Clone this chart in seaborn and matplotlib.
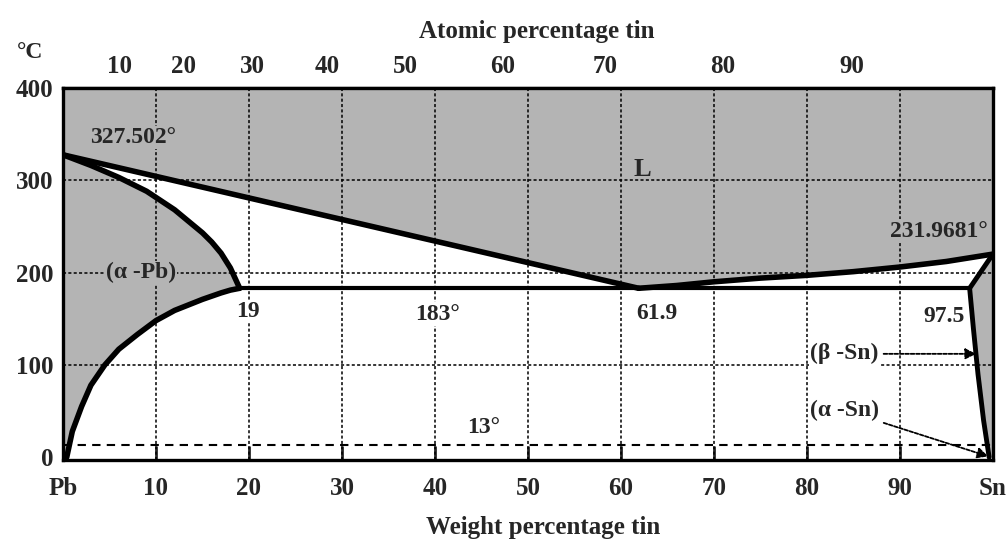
import matplotlib
matplotlib.use("Agg")
import matplotlib.pyplot as plt
import seaborn as sns

# Pb-Sn phase diagram, weight % Sn vs temperature (deg C)
liq_left_wt = [0, 61.9]
liq_left_t = [327.5, 183]
liq_right_wt = [61.9, 66, 70, 75, 80, 85, 90, 95, 100]
liq_right_t = [183, 186, 190, 194, 197, 201, 206, 212, 220]
sol_a_wt = [0, 3, 6, 9, 12, 15, 16, 17, 18, 19]
sol_a_t = [327.5, 316, 303, 288, 268, 243, 233, 221, 205, 183]
solv_a_wt = [19, 18, 17, 15, 13.5, 12, 10, 8, 6, 4.5, 3, 2, 1, 0.4]
solv_a_t = [183, 181, 178, 171, 165, 159, 148, 133, 117, 100, 78, 55, 28, 0]
sol_b_wt = [97.5, 100]
sol_b_t = [183, 220]
solv_b_wt = [97.5, 97.9, 98.4, 99.0, 99.6]
solv_b_t = [183, 140, 90, 40, 0]
eut_wt = [19, 61.9, 97.5]
eut_t = [183, 183, 183]
alpha_beta_t = 13

wt_ticks = [0, 10, 20, 30, 40, 50, 60, 70, 80, 90, 100]
wt_labels = ["Pb", "10", "20", "30", "40", "50", "60", "70", "80", "90", "Sn"]
at_labels = ["10", "20", "30", "40", "50", "60", "70", "80", "90"]
at_pos_wt = [6.1, 13.0, 20.4, 28.4, 36.8, 47.3, 58.3, 70.9, 84.8]
temp_ticks = [0, 100, 200, 300, 400]

sns.set_style("white")
plt.rcParams["font.family"] = ["Liberation Serif", "DejaVu Serif"]
plt.rcParams["font.weight"] = "bold"

GRAY = "#b4b4b4"
fig = plt.figure(figsize=(10.08, 5.49), dpi=100)
ax = fig.add_axes([0.0625, 0.162, 0.9225, 0.678])
ax.set_xlim(0, 100)
ax.set_ylim(-3, 400)

# shaded single-phase fields
liq_wt = liq_left_wt + liq_right_wt[1:]
liq_t = liq_left_t + liq_right_t[1:]
ax.fill_between(liq_wt, liq_t, 400, color=GRAY, lw=0, zorder=1)
ax.fill(sol_a_wt + solv_a_wt[1:] + [0], sol_a_t + solv_a_t[1:] + [0],
        color=GRAY, lw=0, zorder=1)
ax.fill(sol_b_wt + [100] + solv_b_wt[::-1], sol_b_t + [0] + solv_b_t[::-1],
        color=GRAY, lw=0, zorder=1)

# dotted grid
for x in wt_ticks[1:-1]:
    ax.axvline(x, color="black", lw=1.1, ls=(0, (2, 1.5)), zorder=2)
for y in temp_ticks[1:-1]:
    ax.axhline(y, color="black", lw=1.1, ls=(0, (2, 1.5)), zorder=2)
ax.axhline(alpha_beta_t, color="black", lw=1.5, ls=(0, (4, 3)), zorder=2)

# phase boundaries
for xs, ys, w in [(liq_left_wt, liq_left_t, 4), (liq_right_wt, liq_right_t, 4),
                  (sol_a_wt, sol_a_t, 4), (solv_a_wt, solv_a_t, 4),
                  (sol_b_wt, sol_b_t, 3.5), (solv_b_wt, solv_b_t, 3.5),
                  (eut_wt, eut_t, 3)]:
    sns.lineplot(x=xs, y=ys, ax=ax, color="black", lw=w, sort=False,
                 estimator=None, zorder=3)

gbox = dict(boxstyle="square,pad=0.05", fc=GRAY, ec="none")
wbox = dict(boxstyle="square,pad=0.05", fc="white", ec="none")
fs = 17
ax.text(2.9, 346, "327.502°", ha="left", va="center", fontsize=fs, bbox=gbox, zorder=4)
ax.text(62.3, 312, "L", ha="center", va="center", fontsize=19, zorder=4)
ax.text(99.5, 245, "231.9681°", ha="right", va="center", fontsize=fs, bbox=gbox, zorder=4)
ax.text(8.4, 200, "(α -Pb)", ha="center", va="center", fontsize=fs, bbox=gbox, zorder=4)
ax.text(19.9, 158, "19", ha="center", va="center", fontsize=fs, bbox=wbox, zorder=4)
ax.text(40.3, 155, "183°", ha="center", va="center", fontsize=fs, bbox=wbox, zorder=4)
ax.text(63.9, 156, "61.9", ha="center", va="center", fontsize=fs, bbox=wbox, zorder=4)
ax.text(97.0, 152, "97.5", ha="right", va="center", fontsize=fs, bbox=wbox, zorder=4)
ax.text(45.2, 32, "13°", ha="center", va="center", fontsize=fs, bbox=wbox, zorder=4)
arrow = dict(arrowstyle="-|>", color="black", lw=1.3, ls=(0, (2, 1)),
             mutation_scale=16, shrinkA=3, shrinkB=0)
ax.annotate("(β -Sn)", xy=(98.2, 112), xytext=(84, 112), ha="center", va="center",
            fontsize=fs, arrowprops=arrow, bbox=wbox, zorder=4)
ax.annotate("(α -Sn)", xy=(99.5, 1), xytext=(84, 51), ha="center", va="center",
            fontsize=fs, arrowprops=arrow, bbox=wbox, zorder=4)

# axes, ticks, labels
ax.set_xticks(wt_ticks, labels=wt_labels)
ax.set_yticks(temp_ticks)
ax.tick_params(axis="x", bottom=True, top=False, direction="in", length=10,
               width=2, pad=12, labelsize=18)
ax.tick_params(axis="y", left=True, direction="in", length=18, width=1.6,
               pad=7, labelsize=18)
for t in (ax.yaxis.get_major_ticks()[0], ax.yaxis.get_major_ticks()[-1]):
    t.tick1line.set_visible(False)
for s in ax.spines.values():
    s.set_visible(True)
    s.set_linewidth(2.4)
    s.set_color("black")
    s.set_zorder(5)
ax.set_xlabel("Weight percentage tin", fontsize=18, fontweight="bold")
ax.xaxis.set_label_coords(0.516, -0.15)

secax = ax.secondary_xaxis("top")
secax.set_xticks(at_pos_wt, labels=at_labels)
secax.tick_params(axis="x", top=True, direction="in", length=15, width=2.2,
                  pad=7, labelsize=18)
secax.spines["top"].set_linewidth(2.4)
secax.set_xlabel("Atomic percentage tin", fontsize=18, fontweight="bold", labelpad=12)
secax.xaxis.label.set_x(0.51)

fig.text(0.03, 0.905, "°C", ha="center", va="center", fontsize=17)

fig.savefig("out.png", dpi=100)
